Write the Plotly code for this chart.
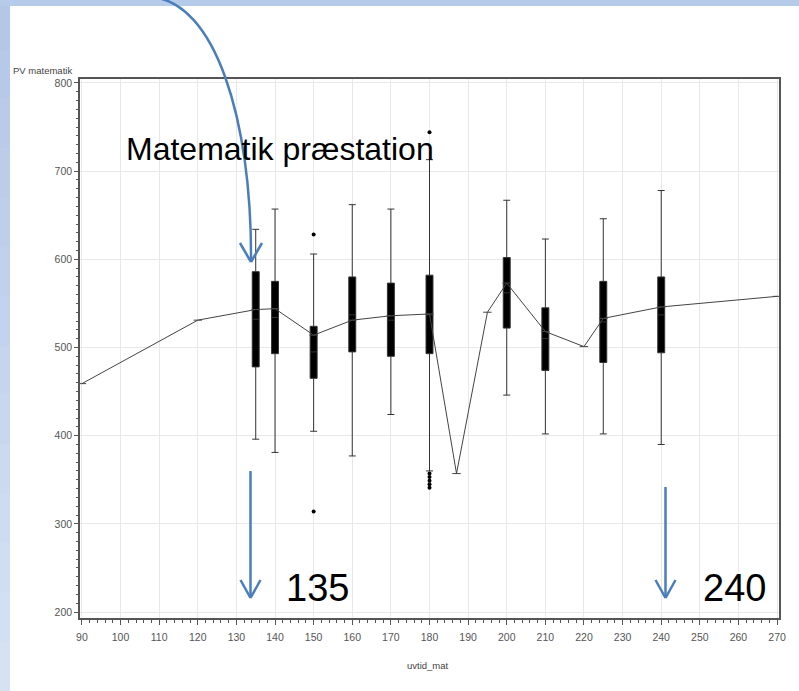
import plotly.graph_objects as go

# ---------------- data ----------------
box_x = [135, 140, 150, 160, 170, 180, 200, 210, 225, 240]
box_upper = [634, 657, 606, 662, 657, 713, 667, 623, 646, 678]
box_q3 = [586, 575, 524, 580, 573, 582, 602, 545, 575, 580]
box_median = [532, 534, 495, 537, 531, 537, 562, 510, 529, 537]
box_q1 = [478, 493, 465, 495, 490, 493, 522, 474, 483, 494]
box_lower = [396, 381, 405, 377, 424, 360, 446, 402, 402, 390]

outlier_x = [150, 150, 180, 180, 180, 180, 180, 180]
outlier_y = [628, 314, 744, 357, 353, 349, 345, 341]

mean_x = [90, 120, 135, 140, 150, 160, 170, 180, 187, 195, 200, 210, 220, 225, 240, 270]
mean_y = [459, 531, 543, 544, 514, 531, 536, 538, 357, 540, 573, 518, 501, 533, 546, 558]

x_ticks = list(range(90, 271, 10))
y_ticks = [200, 300, 400, 500, 600, 700, 800]

X_RANGE = [89.5, 270.5]
Y_RANGE = [193.2, 804.5]

# ---------------- layout geometry ----------------
W, H = 799, 691
ML, MR, MT, MB = 80, 20, 79, 73
PW, PH = W - ML - MR, H - MT - MB


def px(xp):
    return (xp - ML) / PW


def py(yp):
    return (H - MB - yp) / PH


AX = "#555555"
BLUE = "#4a7ebb"
TICKFONT = dict(family="Liberation Sans, Arial, sans-serif", size=10.5, color="#555555")

fig = go.Figure()

fig.add_trace(go.Scatter(
    x=mean_x, y=mean_y, mode="lines+markers",
    line=dict(color="#444444", width=1),
    marker=dict(symbol="line-ew", size=6, line=dict(color="#444444", width=1)),
    showlegend=False, hoverinfo="skip",
))

fig.add_trace(go.Box(
    x=box_x, q1=box_q1, median=box_median, q3=box_q3,
    lowerfence=box_lower, upperfence=box_upper,
    width=1.8, whiskerwidth=1, boxpoints=False,
    fillcolor="black", line=dict(color="#333333", width=1),
    showlegend=False,
))

fig.add_trace(go.Scatter(
    x=outlier_x, y=outlier_y, mode="markers",
    marker=dict(color="black", size=4),
    showlegend=False, hoverinfo="skip",
))

shapes = []
# slide background bands
n = 14
top_c = (180, 199, 231)
bot_c = (214, 225, 243)
for i in range(n):
    t = i / (n - 1)
    c = tuple(round(top_c[k] + (bot_c[k] - top_c[k]) * t) for k in range(3))
    shapes.append(dict(type="rect", xref="paper", yref="paper", layer="below",
                       x0=px(0), x1=px(10), y0=py(H * i / n), y1=py(H * (i + 1) / n + 1),
                       fillcolor="rgb(%d,%d,%d)" % c, line=dict(width=0)))
shapes.append(dict(type="rect", xref="paper", yref="paper", layer="below",
                   x0=px(0), x1=px(W), y0=py(0), y1=py(6),
                   fillcolor="rgb(182,202,233)", line=dict(width=0)))

arrow_line = dict(color=BLUE, width=2.5)


def seg(x0, y0, x1, y1):
    return dict(type="line", xref="paper", yref="paper", layer="above",
                x0=px(x0), y0=py(y0), x1=px(x1), y1=py(y1), line=arrow_line)


# curved arrow
p = [(150, -3), (215, 0), (252, 120), (251, 261)]
path = "M %f,%f C %f,%f %f,%f %f,%f" % (px(p[0][0]), py(p[0][1]), px(p[1][0]), py(p[1][1]),
                                       px(p[2][0]), py(p[2][1]), px(p[3][0]), py(p[3][1]))
shapes.append(dict(type="path", xref="paper", yref="paper", layer="above", path=path, line=arrow_line))
shapes.append(seg(240, 243, 251, 262))
shapes.append(seg(262, 243, 251, 262))
# vertical arrows
for ax_ in (250.5, 665.5):
    y_start = 471 if ax_ < 400 else 487
    shapes.append(seg(ax_, y_start, ax_, 598))
    shapes.append(seg(ax_ - 10, 580, ax_, 598))
    shapes.append(seg(ax_ + 10, 580, ax_, 598))

BIG = "Liberation Sans, Arial, sans-serif"
annotations = [
    dict(text="PV matematik", xref="paper", yref="paper", x=px(74), y=py(71),
         xanchor="right", yanchor="middle", showarrow=False,
         font=dict(family="Liberation Sans, Arial, sans-serif", size=9.5, color="#444444")),
    dict(text="uvtid_mat", xref="paper", yref="paper", x=px(428), y=py(665),
         xanchor="center", yanchor="middle", showarrow=False,
         font=dict(family="Liberation Sans, Arial, sans-serif", size=9.5, color="#444444")),
    dict(text="Matematik præstation", xref="paper", yref="paper", x=px(279.5), y=py(149),
         xanchor="center", yanchor="middle", showarrow=False,
         font=dict(family=BIG, size=32, color="black")),
    dict(text="135", xref="paper", yref="paper", x=px(317), y=py(588),
         xanchor="center", yanchor="middle", showarrow=False,
         font=dict(family=BIG, size=38, color="black")),
    dict(text="240", xref="paper", yref="paper", x=px(734), y=py(588),
         xanchor="center", yanchor="middle", showarrow=False,
         font=dict(family=BIG, size=38, color="black")),
]

fig.update_layout(
    width=W, height=H,
    margin=dict(l=ML, r=MR, t=MT, b=MB, pad=0),
    paper_bgcolor="white", plot_bgcolor="white",
    shapes=shapes, annotations=annotations,
    boxmode="overlay",
    xaxis=dict(range=X_RANGE, tickvals=x_ticks, ticktext=[str(v) for v in x_ticks],
               ticks="outside", ticklen=5, tickcolor=AX, tickwidth=1,
               showgrid=True, gridcolor="#e8e8e8", gridwidth=1, zeroline=False,
               showline=True, linecolor=AX, linewidth=1.5, mirror=True,
               tickfont=TICKFONT, ticklabelstandoff=4,
               minor=dict(dtick=2, tick0=90, ticks="outside", ticklen=3, tickcolor=AX, showgrid=False)),
    yaxis=dict(range=Y_RANGE, tickvals=y_ticks, ticktext=[str(v) for v in y_ticks],
               ticks="outside", ticklen=4, tickcolor=AX, tickwidth=1,
               showgrid=True, gridcolor="#e8e8e8", gridwidth=1, zeroline=False,
               showline=True, linecolor=AX, linewidth=1.5, mirror=True,
               tickfont=TICKFONT,
               minor=dict(dtick=10, tick0=200, ticks="outside", ticklen=2.5, tickcolor=AX, showgrid=False)),
)

fig.write_html("out.html", config={"displayModeBar": False},
               post_script="document.body.style.margin='0';document.body.style.padding='0';")
